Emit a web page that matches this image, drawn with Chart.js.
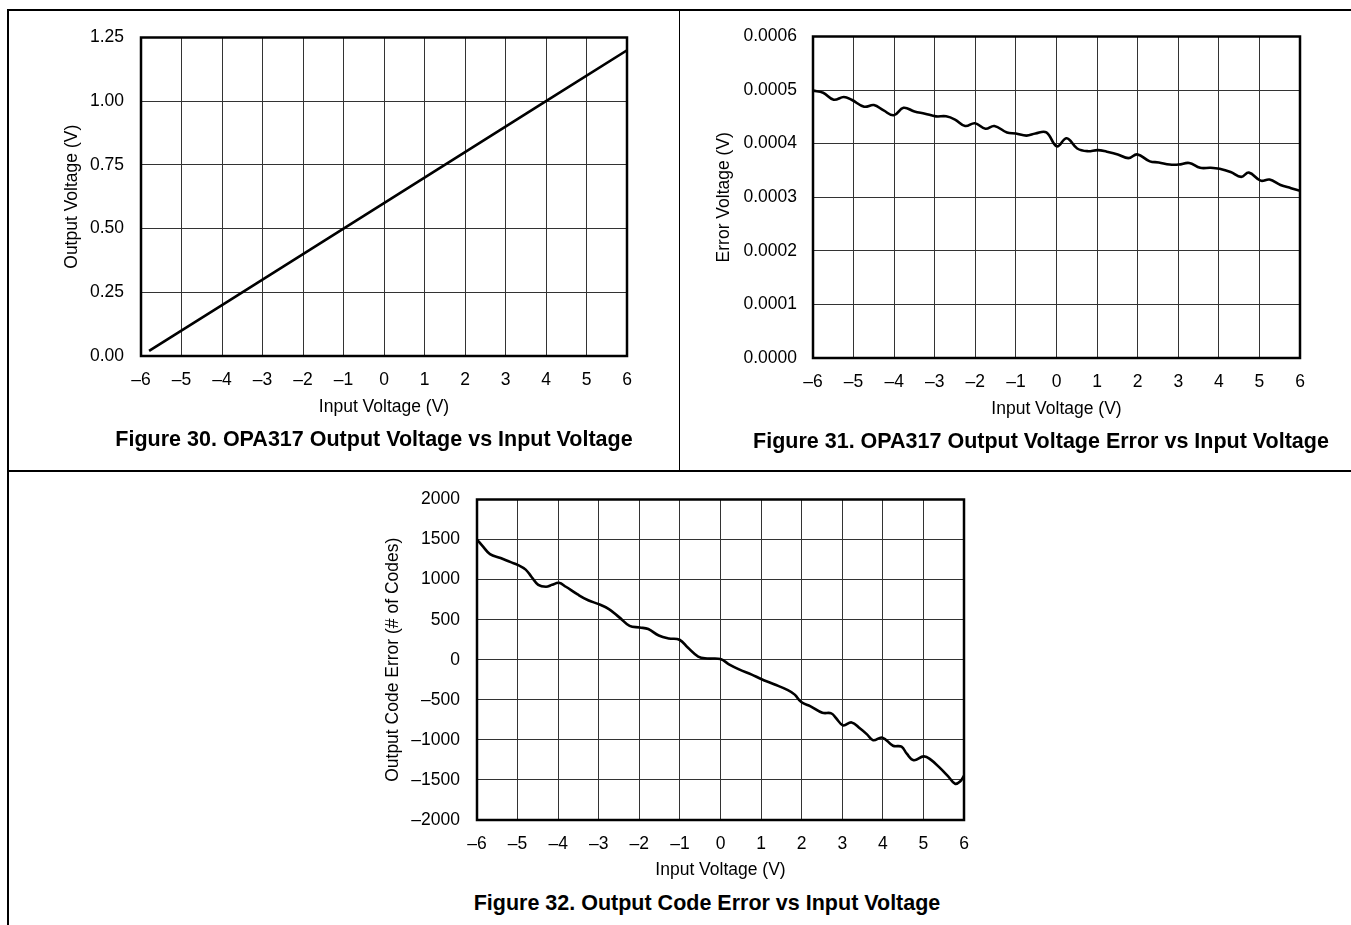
<!DOCTYPE html>
<html>
<head>
<meta charset="utf-8">
<script src="https://cdn.jsdelivr.net/npm/chart.js@4"></script>
<style>
  body { margin: 0; background: #fff; width: 1351px; height: 925px; position: relative; overflow: hidden; font-family: "Liberation Sans", Arial, sans-serif; }
  .box { position: absolute; }
  .rule { position: absolute; background: #000; }
  .cap { position: absolute; height: 24px; line-height: 24px; font-weight: bold; font-size: 21.5px; white-space: nowrap; text-align: center; color: #000; }
</style>
</head>
<body>
<div class="rule" style="left:7px;top:9px;width:1344px;height:1.5px"></div>
<div class="rule" style="left:7px;top:9px;width:1.5px;height:916px"></div>
<div class="rule" style="left:678.5px;top:9px;width:1.5px;height:462px"></div>
<div class="rule" style="left:7px;top:470px;width:1344px;height:1.5px"></div>

<div class="box" style="left:8px;top:10px;width:670px;height:420px"><canvas id="c30"></canvas></div>
<div class="box" style="left:680px;top:10px;width:671px;height:420px"><canvas id="c31"></canvas></div>
<div class="box" style="left:9px;top:472px;width:1342px;height:410px"><canvas id="c32"></canvas></div>

<div class="cap" style="left:74px;width:600px;top:427px">Figure 30. OPA317 Output Voltage vs Input Voltage</div>
<div class="cap" style="left:741px;width:600px;top:429px">Figure 31. OPA317 Output Voltage Error vs Input Voltage</div>
<div class="cap" style="left:407px;width:600px;top:891px">Figure 32. Output Code Error vs Input Voltage</div>

<script>
// shared x axis
const xTickLabels = ['–6', '–5', '–4', '–3', '–2', '–1', '0', '1', '2', '3', '4', '5', '6'];

// Figure 30
const fig30X = [-5.8, -4, -2, 0, 2, 4, 6];
const fig30Y = [0.02, 0.2, 0.4, 0.6, 0.8, 1.0, 1.2];
const fig30Ticks = ['0.00', '0.25', '0.50', '0.75', '1.00', '1.25'];

// Figure 31
const fig31X = [-6, -5.75, -5.49, -5.24, -5.05, -4.74, -4.5, -4.26, -4.01, -3.77, -3.5, -3.24, -2.97, -2.72, -2.5,
  -2.25, -2.01, -1.75, -1.53, -1.22, -1.0, -0.74, -0.52, -0.25, 0.01, 0.25, 0.51, 0.76, 1.02, 1.24, 1.51, 1.77,
  1.99, 2.3, 2.52, 2.79, 3.01, 3.27, 3.54, 3.8, 4.02, 4.29, 4.55, 4.74, 5.03, 5.25, 5.52, 5.78, 6.0];
const fig31Y = [0.000499, 0.000495, 0.000482, 0.000487, 0.000482, 0.000469, 0.000472, 0.000462, 0.000453, 0.000467,
  0.000460, 0.000456, 0.000451, 0.000451, 0.000445, 0.000433, 0.000438, 0.000428, 0.000433, 0.000421, 0.000419,
  0.000415, 0.000419, 0.000421, 0.000395, 0.000410, 0.000391, 0.000386, 0.000388, 0.000385, 0.000380, 0.000373,
  0.000380, 0.000367, 0.000365, 0.000361, 0.000361, 0.000364, 0.000355, 0.000355, 0.000353, 0.000347, 0.000338,
  0.000346, 0.000331, 0.000333, 0.000323, 0.000317, 0.000312];
const fig31Ticks = ['0.0000', '0.0001', '0.0002', '0.0003', '0.0004', '0.0005', '0.0006'];

// Figure 32
const fig32X = [-6, -5.85, -5.68, -5.42, -5.17, -5.0, -4.8, -4.66, -4.49, -4.3, -4.15, -3.98, -3.81, -3.52, -3.26,
  -3.0, -2.75, -2.5, -2.24, -1.99, -1.78, -1.52, -1.27, -1.01, -0.8, -0.55, -0.33, 0.0, 0.22, 0.47, 0.77, 1.0,
  1.32, 1.66, 1.83, 1.99, 2.22, 2.51, 2.73, 2.85, 3.02, 3.23, 3.44, 3.61, 3.76, 3.99, 4.25, 4.46, 4.59, 4.76,
  5.01, 5.18, 5.4, 5.61, 5.78, 5.91, 6.0];
const fig32Y = [1500, 1411, 1319, 1270, 1218, 1185, 1125, 1036, 935, 911, 935, 960, 911, 815, 742,
  694, 633, 532, 423, 403, 383, 302, 266, 250, 149, 40, 16, 8, -60, -123, -185, -240,
  -306, -379, -435, -528, -581, -661, -669, -730, -819, -782, -859, -931, -1004, -972, -1073, -1085, -1173, -1254,
  -1206, -1246, -1347, -1456, -1548, -1516, -1448];
const fig32Ticks = ['–2000', '–1500', '–1000', '–500', '0', '500', '1000', '1500', '2000'];

const FONT = '"Liberation Sans", Arial, sans-serif';
const FS = 17.5;
const LH = FS * 1.2;

const frame = {
  id: 'frame',
  afterDraw(chart) {
    const a = chart.chartArea, ctx = chart.ctx;
    ctx.save();
    ctx.strokeStyle = '#000';
    ctx.lineWidth = 2.5;
    ctx.strokeRect(a.left, a.top, a.right - a.left, a.bottom - a.top);
    ctx.restore();
  }
};

function build(id, box, plot, pos, xs, ys, yMin, yMax, yStep, yTicks, yTitle, tension) {
  const pl = plot.l - box.left;
  const padRight = box.width - (plot.r - box.left);
  const padTop = plot.t - box.top;
  const padLeft = pos.yTitleX - box.left - 4 - LH / 2;
  const yW = pl - padLeft;
  const xH = (pos.xTitleY - plot.b) + 4 + LH / 2;
  const padBottom = box.height - (plot.b - box.top) - xH;
  const points = xs.map((x, i) => ({ x: x, y: ys[i] }));
  new Chart(document.getElementById(id), {
    type: 'line',
    data: { datasets: [{ data: points, borderColor: '#000', borderWidth: 2.6, pointRadius: 0, tension: tension, fill: false }] },
    options: {
      responsive: true,
      maintainAspectRatio: false,
      animation: false,
      layout: { padding: { left: padLeft, right: padRight, top: padTop, bottom: padBottom } },
      plugins: { legend: { display: false }, tooltip: { enabled: false } },
      scales: {
        x: {
          type: 'linear', min: -6, max: 6,
          afterFit: s => { s.height = xH; },
          ticks: { stepSize: 1, color: '#000', font: { family: FONT, size: FS }, padding: pos.xTickY - plot.b - LH / 2,
            maxRotation: 0, autoSkip: false, callback: (v, i) => xTickLabels[i] },
          grid: { color: '#333', lineWidth: 1, drawTicks: false },
          border: { display: false },
          title: { display: true, text: 'Input Voltage (V)', color: '#000', font: { family: FONT, size: FS }, padding: { top: 4, bottom: 4 } }
        },
        y: {
          min: yMin, max: yMax,
          afterFit: s => { s.width = yW; },
          ticks: { stepSize: yStep, color: '#000', font: { family: FONT, size: FS }, padding: plot.l - pos.yTickR,
            autoSkip: false, callback: (v, i) => yTicks[i] },
          grid: { color: '#333', lineWidth: 1, drawTicks: false },
          border: { display: false },
          title: { display: true, text: yTitle, color: '#000', font: { family: FONT, size: FS }, padding: { top: 4, bottom: 4 } }
        }
      }
    },
    plugins: [frame]
  });
}

build('c30', { left: 8, top: 10, width: 670, height: 420 }, { l: 141, r: 627, t: 24, b: 356 },
  { yTitleX: 72, yTickR: 124, xTickY: 380, xTitleY: 407 },
  fig30X, fig30Y, 0, 1.25, 0.25, fig30Ticks, 'Output Voltage (V)', 0);

build('c31', { left: 680, top: 10, width: 671, height: 420 }, { l: 813, r: 1300, t: 27, b: 358 },
  { yTitleX: 724.5, yTickR: 797, xTickY: 382, xTitleY: 409 },
  fig31X, fig31Y, 0, 0.0006, 0.0001, fig31Ticks, 'Error Voltage (V)', 0.4);

build('c32', { left: 9, top: 472, width: 1342, height: 410 }, { l: 477, r: 964, t: 489, b: 820 },
  { yTitleX: 393, yTickR: 460, xTickY: 844, xTitleY: 870 },
  fig32X, fig32Y, -2000, 2000, 500, fig32Ticks, 'Output Code Error (# of Codes)', 0.4);
</script>
</body>
</html>
